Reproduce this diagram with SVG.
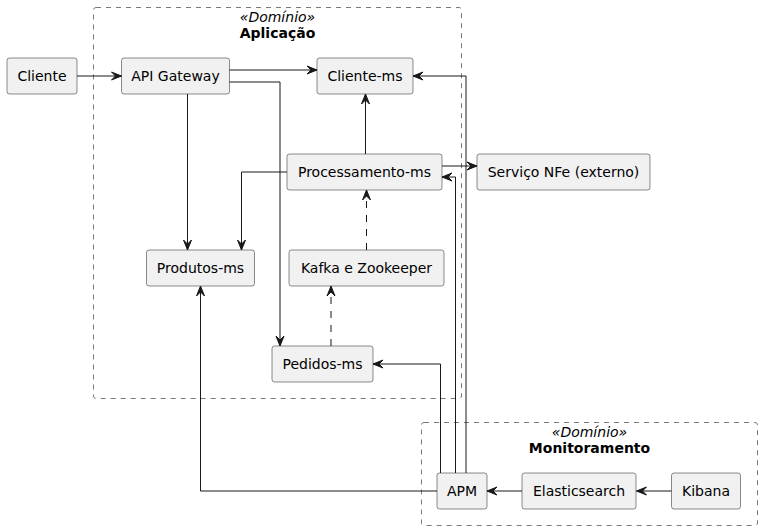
<svg xmlns="http://www.w3.org/2000/svg" width="762" height="530" viewBox="0 0 762 530">
<style>
.cluster{fill:none;stroke:#7a7a7a;stroke-width:1;stroke-dasharray:5,5}
.node rect{fill:#F1F1F1;stroke:#181818;stroke-width:0.5}
text{font-family:"DejaVu Sans","Noto Sans",sans-serif;font-size:14px;fill:#000}
.node text{text-anchor:middle}
.st{font-style:italic;text-anchor:middle}
.ti{font-weight:bold;text-anchor:middle}
.c path{fill:none;stroke:#181818;stroke-width:1}
.c path.d{stroke-dasharray:7,7}
</style>
<defs>
<marker id="ah" viewBox="0 0 11 10" refX="10.5" refY="5" markerWidth="11" markerHeight="10" markerUnits="userSpaceOnUse" orient="auto">
<path d="M10.5,5 L0.5,1 L4.5,5 L0.5,9 Z" fill="#181818" stroke="#181818" stroke-width="1" stroke-linejoin="miter"/>
</marker>
</defs>
<rect fill="#FFFFFF" x="0" y="0" width="762" height="530"/>
<g id="cluster-aplicacao">
<rect class="cluster" x="93.5" y="7.5" width="368" height="391" rx="2.5"/>
<text class="st" x="277.5" y="22">«Domínio»</text>
<text class="ti" x="277.5" y="38">Aplicação</text>
</g>
<g id="cluster-monitoramento">
<rect class="cluster" x="421.5" y="422.5" width="336" height="103" rx="2.5"/>
<text class="st" x="589.5" y="437">«Domínio»</text>
<text class="ti" x="589.5" y="453">Monitoramento</text>
</g>
<g id="node-cliente" class="node"><rect x="7" y="58" width="70" height="36" rx="2.5"/><text x="42" y="81">Cliente</text></g>
<g id="node-apigateway" class="node"><rect x="121.5" y="58" width="108" height="36" rx="2.5"/><text x="175.5" y="81">API Gateway</text></g>
<g id="node-clientems" class="node"><rect x="317" y="58" width="96" height="36" rx="2.5"/><text x="365" y="81">Cliente-ms</text></g>
<g id="node-processamentoms" class="node"><rect x="287" y="154" width="155" height="36" rx="2.5"/><text x="364.5" y="177">Processamento-ms</text></g>
<g id="node-nfe" class="node"><rect x="477" y="154" width="173" height="36" rx="2.5"/><text x="563.5" y="177">Serviço NFe (externo)</text></g>
<g id="node-produtosms" class="node"><rect x="146.5" y="250" width="108" height="36" rx="2.5"/><text x="200.5" y="273">Produtos-ms</text></g>
<g id="node-kafka" class="node"><rect x="289" y="250" width="155" height="36" rx="2.5"/><text x="366.5" y="273">Kafka e Zookeeper</text></g>
<g id="node-pedidosms" class="node"><rect x="272" y="346" width="101" height="36" rx="2.5"/><text x="322.5" y="369">Pedidos-ms</text></g>
<g id="node-apm" class="node"><rect x="437" y="473" width="50" height="36" rx="2.5"/><text x="462" y="496">APM</text></g>
<g id="node-elasticsearch" class="node"><rect x="522" y="473" width="114" height="36" rx="2.5"/><text x="579" y="496">Elasticsearch</text></g>
<g id="node-kibana" class="node"><rect x="671.5" y="473" width="69" height="36" rx="2.5"/><text x="706" y="496">Kibana</text></g>
<g id="connectors" class="c">
<path d="M77,76 L121.5,76" marker-end="url(#ah)"/>
<path d="M229.5,70 L317,70" marker-end="url(#ah)"/>
<path d="M229.5,82 L280,82 L280,346" marker-end="url(#ah)"/>
<path d="M187.5,94 L187.5,250" marker-end="url(#ah)"/>
<path d="M365.5,154 L365.5,94" marker-end="url(#ah)"/>
<path d="M287,172 L241.5,172 L241.5,250" marker-end="url(#ah)"/>
<path d="M442,166 L477,166" marker-end="url(#ah)"/>
<path class="d" d="M366.5,250 L366.5,190" marker-end="url(#ah)"/>
<path class="d" d="M331,346 L331,286" marker-end="url(#ah)"/>
<path d="M466,473 L466,76 L413,76" marker-end="url(#ah)"/>
<path d="M455.5,473 L455.5,177 L442,177" marker-end="url(#ah)"/>
<path d="M440.5,473 L440.5,364 L373,364" marker-end="url(#ah)"/>
<path d="M437,491 L200.5,491 L200.5,286" marker-end="url(#ah)"/>
<path d="M522,491 L487,491" marker-end="url(#ah)"/>
<path d="M671.5,491 L636.5,491" marker-end="url(#ah)"/>
</g>
</svg>
